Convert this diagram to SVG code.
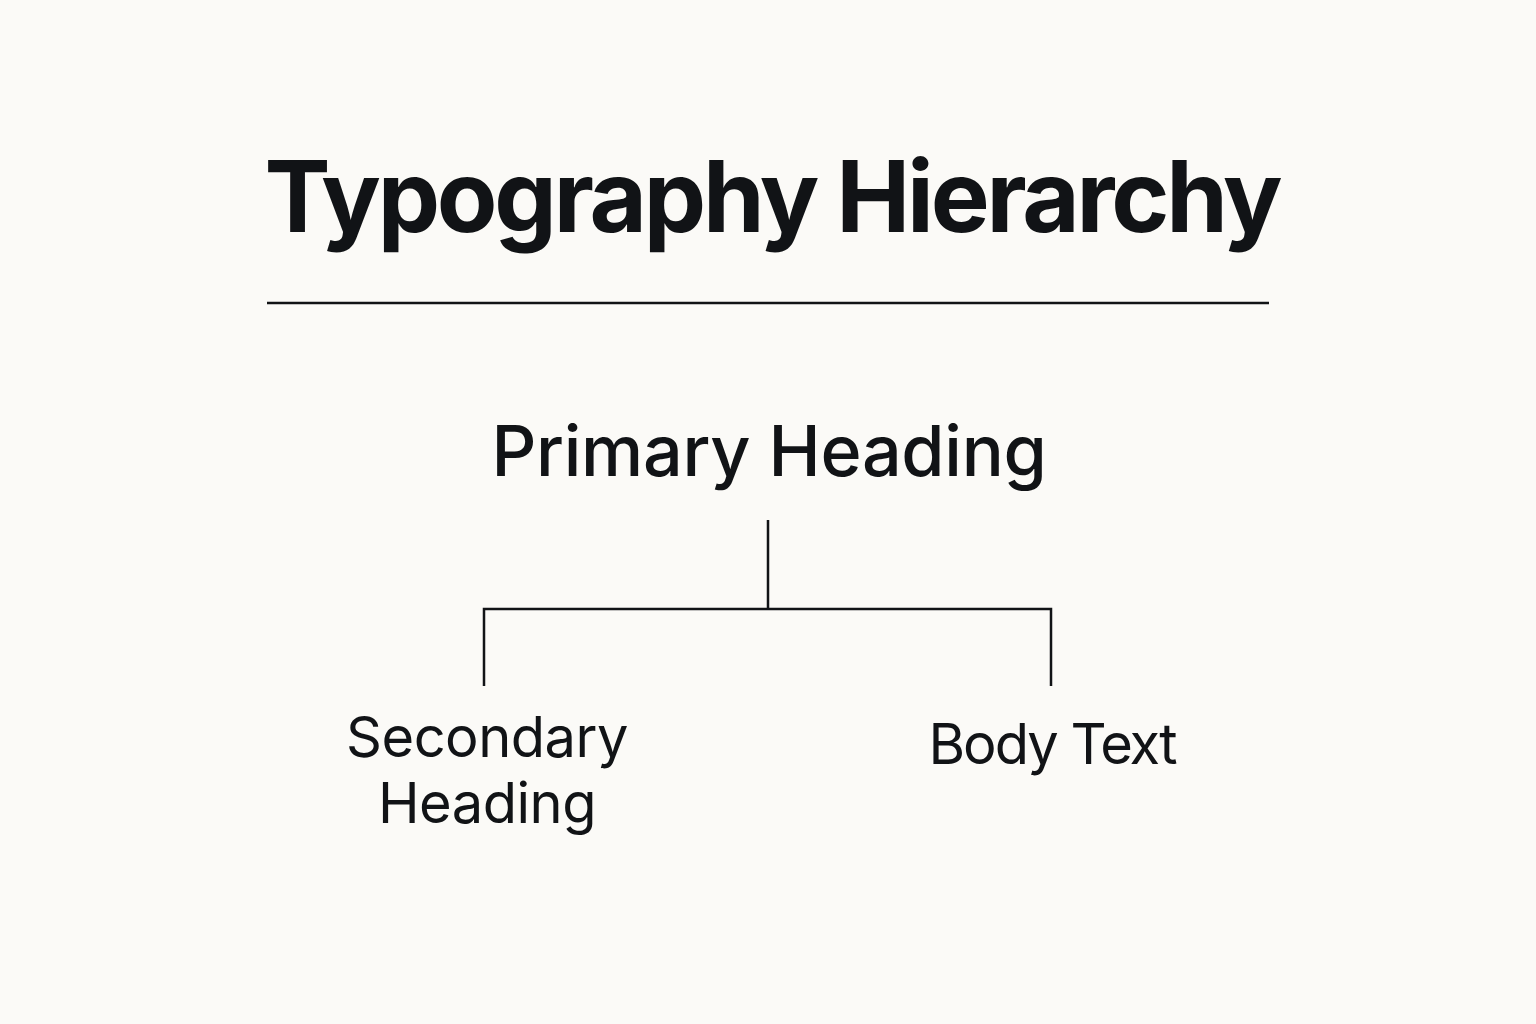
<svg xmlns="http://www.w3.org/2000/svg" width="1536" height="1024" viewBox="0 0 1536 1024">
<style>
text{font-family:Inter,"Noto Sans","Liberation Sans",sans-serif;fill:#111316;text-anchor:middle}
.title{font-size:99px;font-weight:700;letter-spacing:-3.2px}
.primary{font-size:70px;font-weight:500;letter-spacing:-0.3px}
.sub{font-size:56px;font-weight:400;letter-spacing:-0.5px}
.ln{stroke:#111316;stroke-width:2.5;fill:none}
</style>
<rect width="1536" height="1024" fill="#fbfaf7"/>
<g id="title"><text class="title" x="772" y="232">Typography Hierarchy</text></g>
<g id="rule"><line class="ln" x1="267" y1="303" x2="1269" y2="303"/></g>
<g id="primary"><text class="primary" x="769" y="476">Primary Heading</text></g>
<g id="connectors">
<path class="ln" d="M768 520V609M484 686V609H1051V686"/>
</g>
<g id="secondary"><text class="sub" x="487" y="757">Secondary</text><text class="sub" x="487" y="823">Heading</text></g>
<g id="body"><text class="sub" x="1052" y="764" style="letter-spacing:-2px">Body Text</text></g>
</svg>
